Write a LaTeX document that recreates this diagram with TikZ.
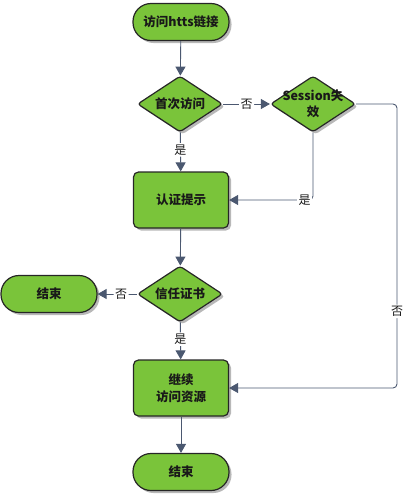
\documentclass[tikz,border=0pt]{standalone}
\usepackage{fontspec}
\setmainfont{Noto Sans CJK SC}
\usetikzlibrary{shapes.geometric,shadows,arrows.meta}
\definecolor{boxgreen}{RGB}{122,196,58}
\definecolor{linec}{RGB}{75,88,112}
\definecolor{txt}{RGB}{25,25,25}
\tikzset{
  shd/.style={drop shadow={shadow xshift=2.5pt,shadow yshift=-2.5pt,fill=black,opacity=0.28}},
  term/.style={shd,draw=black!85,line width=1.2pt,fill=boxgreen,rounded corners=18pt,
    minimum width=96pt,minimum height=37pt,inner sep=0pt,font=\bfseries\fontsize{12.5}{14}\selectfont,text=txt},
  proc/.style={shd,draw=black!85,line width=1.2pt,fill=boxgreen,rounded corners=5pt,
    minimum width=95pt,minimum height=56pt,inner sep=0pt,align=center,font=\bfseries\fontsize{12.5}{17}\selectfont,text=txt},
  dia/.style={shd,draw=black!85,line width=1.2pt,fill=boxgreen,diamond,rounded corners=3pt,
    minimum width=85pt,minimum height=56pt,inner sep=0pt,aspect=1.55},
  dtext/.style={align=center,inner sep=0pt,font=\bfseries\fontsize{12.5}{16}\selectfont,text=txt},
  conn/.style={draw=linec,line width=0.9pt,-{Triangle[length=9pt,width=10pt]},rounded corners=4pt},
  lbl/.style={fill=white,inner sep=1.5pt,font=\fontsize{12}{14}\selectfont,text=txt}
}
\begin{document}
\begin{tikzpicture}[x=1pt,y=-1pt]
\useasboundingbox (0,0) rectangle (405,496);
\node[term] (start) at (181,22) {访问htts链接};
\node[dia] (first) at (180,104) {};
\node[dtext] (firstt) at (first) {首次访问};
\node[dia] (sess) at (313,104) {};
\node[dtext] (sesst) at (313,104) {Session失\\效};
\node[proc] (auth) at (181,200) {认证提示};
\node[dia] (trust) at (180,294) {};
\node[dtext] (trustt) at (trust) {信任证书};
\node[term] (end1) at (49,294) {结束};
\node[proc] (cont) at (181,388) {继续\\访问资源};
\node[term] (end2) at (181,472) {结束};
\coordinate (c1) at (397,104);
\coordinate (c2) at (397,388);
\coordinate (c3) at (313,200);

\draw[conn] (start) -- (first);
\draw[conn] (first) -- node[lbl] (l1) {否} (sess);
\draw[conn] (first) -- node[lbl,pos=0.45] (l2) {是} (auth);
\draw[conn] (sess.south) -- (c3) -- node[lbl,pos=0.1] (l3) {是} (auth.east);
\draw[conn] (sess.east) -- (c1) -- node[lbl,pos=0.73] (l4) {否} (c2) -- (cont.east);
\draw[conn] (auth) -- (trust);
\draw[conn] (trust) -- node[lbl,pos=0.4] (l5) {否} (end1);
\draw[conn] (trust) -- node[lbl,pos=0.45] (l6) {是} (cont);
\draw[conn] (cont) -- (end2);
\end{tikzpicture}
\end{document}
